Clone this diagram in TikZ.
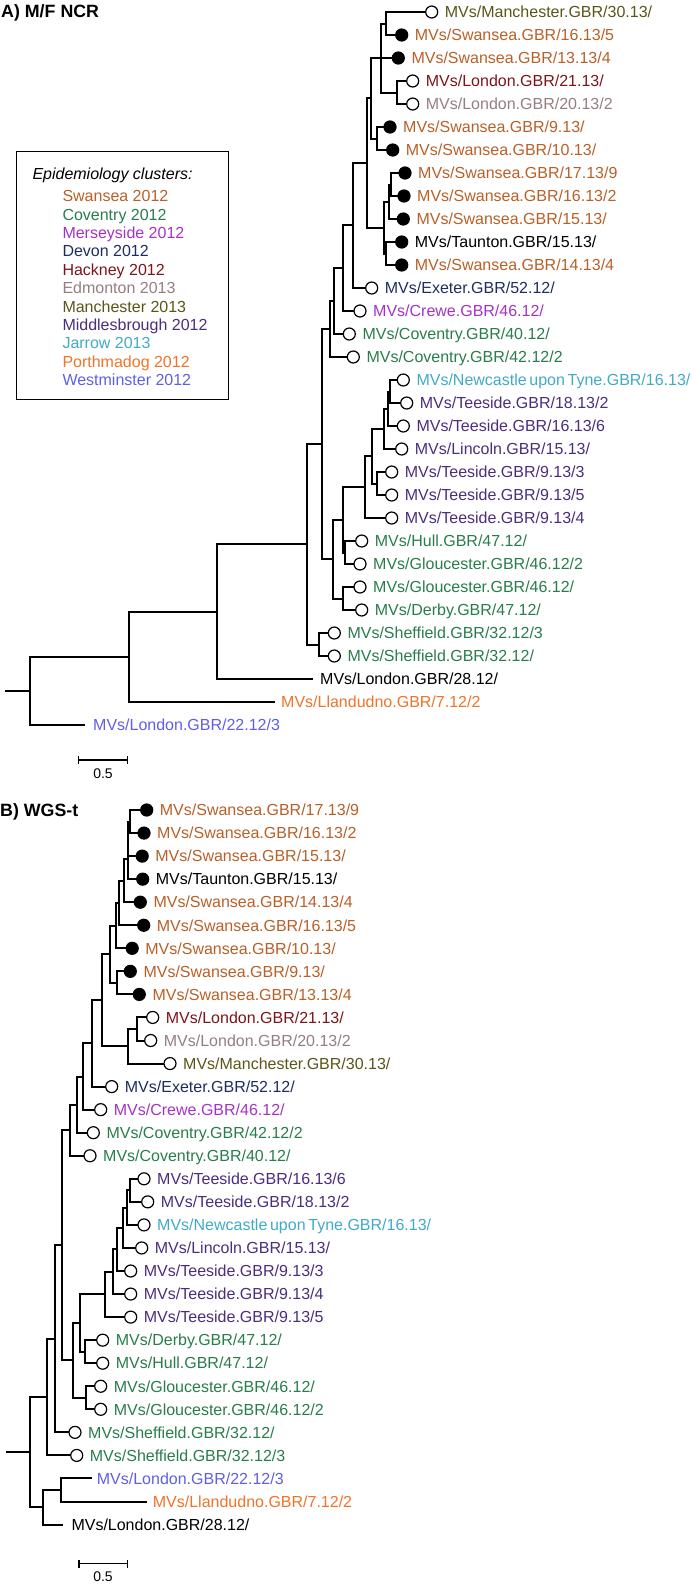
\documentclass[tikz,border=0pt]{standalone}
\usepackage{fontspec}
\setmainfont{Liberation Sans}
\usepackage{tikz}
\usetikzlibrary{arrows.meta,positioning}
\tikzset{>=Stealth}
\usepackage{xcolor}

% cluster colours
\definecolor{cSwa}{RGB}{185,95,40}
\definecolor{cCov}{RGB}{40,125,75}
\definecolor{cMer}{RGB}{165,50,200}
\definecolor{cDev}{RGB}{30,45,95}
\definecolor{cHac}{RGB}{125,20,25}
\definecolor{cEdm}{RGB}{150,125,130}
\definecolor{cMan}{RGB}{90,85,25}
\definecolor{cMid}{RGB}{75,45,125}
\definecolor{cJar}{RGB}{65,170,200}
\definecolor{cPor}{RGB}{240,115,40}
\definecolor{cWes}{RGB}{95,95,230}

\tikzset{
  branch/.style={line width=2pt},
  dot/.style={circle, draw=black, line width=1.2pt, minimum size=12pt, inner sep=0pt, outer sep=0pt},
  lab/.style={anchor=west, inner sep=0pt, text height=11.5pt, text depth=0pt, font=\fontsize{16}{19}\selectfont},
  paneltitle/.style={anchor=west, inner sep=0pt, text height=12.7pt, text depth=0pt, font=\bfseries\fontsize{17.8}{21}\selectfont},
  scalebar/.style={line width=1.4pt, {Bar[width=8pt]}-{Bar[width=8pt]}},
  scalelab/.style={inner sep=0pt, font=\fontsize{14}{16}\selectfont}
}

\begin{document}
\begin{tikzpicture}[x=1pt, y=-1pt]
\useasboundingbox (0,0) rectangle (693,1585);

% ---------------- A) M/F NCR ----------------
\node[paneltitle] (titleA) at (1,11) {A) M/F NCR};

% legend
\node[draw, line width=1.2pt, anchor=north west, inner sep=0pt,
      minimum width=212.5pt, minimum height=248pt] (legend) at (15.5,151) {};
\node[lab, font=\itshape\fontsize{16}{19}\selectfont] (keytitle) at (32.3,174) {Epidemiology clusters:};
\foreach \col/\lbl [count=\k from 0] in {cSwa/Swansea 2012, cCov/Coventry 2012,
    cMer/Merseyside 2012, cDev/Devon 2012, cHac/Hackney 2012, cEdm/Edmonton 2013,
    cMan/Manchester 2013, cMid/Middlesbrough 2012, cJar/Jarrow 2013,
    cPor/Porthmadog 2012, cWes/Westminster 2012}
  \node[lab, text=\col] (key\k) at (62.3,{196+18.4*\k}) {\lbl};

% leaves with dots
\foreach \nm/\y/\x/\fl/\col/\lbl in {
    a0/12/431.7/white/cMan/{MVs/Manchester.GBR/30.13/},
    a1/35/401.7/black/cSwa/{MVs/Swansea.GBR/16.13/5},
    a2/58/398.3/black/cSwa/{MVs/Swansea.GBR/13.13/4},
    a3/81/412.7/white/cHac/{MVs/London.GBR/21.13/},
    a4/104/412.7/white/cEdm/{MVs/London.GBR/20.13/2},
    a5/127/390/black/cSwa/{MVs/Swansea.GBR/9.13/},
    a6/150/392.7/black/cSwa/{MVs/Swansea.GBR/10.13/},
    a7/173/405/black/cSwa/{MVs/Swansea.GBR/17.13/9},
    a8/196/404/black/cSwa/{MVs/Swansea.GBR/16.13/2},
    a9/219/403.3/black/cSwa/{MVs/Swansea.GBR/15.13/},
    a10/242/401.7/black/black/{MVs/Taunton.GBR/15.13/},
    a11/265/401.7/black/cSwa/{MVs/Swansea.GBR/14.13/4},
    a12/288/371.7/white/cDev/{MVs/Exeter.GBR/52.12/},
    a13/311/360/white/cMer/{MVs/Crewe.GBR/46.12/},
    a14/334/349.3/white/cCov/{MVs/Coventry.GBR/40.12/},
    a15/357/353.3/white/cCov/{MVs/Coventry.GBR/42.12/2},
    a16/380/403.3/white/cJar/{MVs/Newcastle\,upon\,Tyne.GBR/16.13/},
    a17/403/406.7/white/cMid/{MVs/Teeside.GBR/18.13/2},
    a18/426/403.3/white/cMid/{MVs/Teeside.GBR/16.13/6},
    a19/449/401.7/white/cMid/{MVs/Lincoln.GBR/15.13/},
    a20/472/391.7/white/cMid/{MVs/Teeside.GBR/9.13/3},
    a21/495/391.7/white/cMid/{MVs/Teeside.GBR/9.13/5},
    a22/518/391.7/white/cMid/{MVs/Teeside.GBR/9.13/4},
    a23/541/361.7/white/cCov/{MVs/Hull.GBR/47.12/},
    a24/564/360/white/cCov/{MVs/Gloucester.GBR/46.12/2},
    a25/587/360/white/cCov/{MVs/Gloucester.GBR/46.12/},
    a26/610/361.7/white/cCov/{MVs/Derby.GBR/47.12/},
    a27/633/334.3/white/cCov/{MVs/Sheffield.GBR/32.12/3},
    a28/656/334.3/white/cCov/{MVs/Sheffield.GBR/32.12/}}{
  \node[dot, fill=\fl] (\nm) at (\x,\y) {};
  \node[lab, text=\col, right=7pt of \nm] (\nm-l) {\lbl};
}
% leaves without dots
\coordinate (a29) at (313,679);
\coordinate (a30) at (275,702);
\coordinate (a31) at (85,725);
\node[lab, right=7pt of a29] (a29-l) {MVs/London.GBR/28.12/};
\node[lab, text=cPor, right=6pt of a30] (a30-l) {MVs/Llandudno.GBR/7.12/2};
\node[lab, text=cWes, right=8pt of a31] (a31-l) {MVs/London.GBR/22.12/3};

% internal nodes
\coordinate (na01) at (386,23.5);
\coordinate (na34) at (396.7,92.5);
\coordinate (na04) at (381,58);
\coordinate (na56) at (377.3,138.5);
\coordinate (naUp) at (371,98.25);
\coordinate (na78) at (390.7,184.5);
\coordinate (na79) at (388.7,201.75);
\coordinate (na1011) at (386,253.5);
\coordinate (naLow) at (384,227.6);
\coordinate (naQ) at (366.7,162.9);
\coordinate (naP1) at (353,225.45);
\coordinate (naP2) at (343.3,268.2);
\coordinate (naP3) at (334,301.1);
\coordinate (naP4) at (330,329.05);
\coordinate (na1617) at (390,391.5);
\coordinate (na1618) at (388.3,408.75);
\coordinate (na1619) at (384,428.9);
\coordinate (na2021) at (376.7,483.5);
\coordinate (na1621) at (371.7,456.2);
\coordinate (naT) at (365,487.1);
\coordinate (naHG) at (345,552.5);
\coordinate (naM) at (342.7,519.8);
\coordinate (naDG) at (343.3,598.5);
\coordinate (naL) at (333.3,559.15);
\coordinate (naNa) at (321.7,444.1);
\coordinate (naSh) at (319,644.5);
\coordinate (na307) at (307,544.3);
\coordinate (na217) at (217,611.65);
\coordinate (na129) at (129,656.8);
\coordinate (naR) at (30,690.9);
\coordinate (naRs) at (5,690.9);

% branches
\draw[branch] (na01) |- (a0.west) (na01) |- (a1.west);
\draw[branch] (na34) |- (a3.west) (na34) |- (a4.west);
\draw[branch] (na04) |- (na01) (na04) |- (a2.west) (na04) |- (na34);
\draw[branch] (na56) |- (a5.west) (na56) |- (a6.west);
\draw[branch] (naUp) |- (na04) (naUp) |- (na56);
\draw[branch] (na78) |- (a7.west) (na78) |- (a8.west);
\draw[branch] (na79) |- (na78) (na79) |- (a9.west);
\draw[branch] (na1011) |- (a10.west) (na1011) |- (a11.west);
\draw[branch] (naLow) |- (na79) (naLow) |- (na1011);
\draw[branch] (naQ) |- (naUp) (naQ) |- (naLow);
\draw[branch] (naP1) |- (naQ) (naP1) |- (a12.west);
\draw[branch] (naP2) |- (naP1) (naP2) |- (a13.west);
\draw[branch] (naP3) |- (naP2) (naP3) |- (a14.west);
\draw[branch] (naP4) |- (naP3) (naP4) |- (a15.west);
\draw[branch] (na1617) |- (a16.west) (na1617) |- (a17.west);
\draw[branch] (na1618) |- (na1617) (na1618) |- (a18.west);
\draw[branch] (na1619) |- (na1618) (na1619) |- (a19.west);
\draw[branch] (na2021) |- (a20.west) (na2021) |- (a21.west);
\draw[branch] (na1621) |- (na1619) (na1621) |- (na2021);
\draw[branch] (naT) |- (na1621) (naT) |- (a22.west);
\draw[branch] (naHG) |- (a23.west) (naHG) |- (a24.west);
\draw[branch] (naM) |- (naT) (naM) |- (naHG);
\draw[branch] (naDG) |- (a25.west) (naDG) |- (a26.west);
\draw[branch] (naL) |- (naM) (naL) |- (naDG);
\draw[branch] (naNa) |- (naP4) (naNa) |- (naL);
\draw[branch] (naSh) |- (a27.west) (naSh) |- (a28.west);
\draw[branch] (na307) |- (naNa) (na307) |- (naSh);
\draw[branch] (na217) |- (na307) (na217) |- (a29);
\draw[branch] (na129) |- (na217) (na129) |- (a30);
\draw[branch] (naR) |- (na129) (naR) |- (a31);
\draw[branch] (naRs) -- (naR);

% scale bar
\coordinate (sa0) at (78,760);
\coordinate (sa1) at (128,760);
\draw[scalebar] (sa0) -- (sa1);
\node[scalelab] (sa-l) at (103,774) {0.5};

% ---------------- B) WGS-t ----------------
\node[paneltitle] (titleB) at (0,810) {B) WGS-t};

\foreach \nm/\y/\x/\fl/\col/\lbl in {
    b0/810/146.7/black/cSwa/{MVs/Swansea.GBR/17.13/9},
    b1/833.05/144/black/cSwa/{MVs/Swansea.GBR/16.13/2},
    b2/856.1/142.2/black/cSwa/{MVs/Swansea.GBR/15.13/},
    b3/879.15/142.7/black/black/{MVs/Taunton.GBR/15.13/},
    b4/902.2/140.3/black/cSwa/{MVs/Swansea.GBR/14.13/4},
    b5/925.25/143.7/black/cSwa/{MVs/Swansea.GBR/16.13/5},
    b6/948.3/132.2/black/cSwa/{MVs/Swansea.GBR/10.13/},
    b7/971.35/130.3/black/cSwa/{MVs/Swansea.GBR/9.13/},
    b8/994.4/139.3/black/cSwa/{MVs/Swansea.GBR/13.13/4},
    b9/1017.45/152.7/white/cHac/{MVs/London.GBR/21.13/},
    b10/1040.5/150.7/white/cEdm/{MVs/London.GBR/20.13/2},
    b11/1063.55/170/white/cMan/{MVs/Manchester.GBR/30.13/},
    b12/1086.6/111.7/white/cDev/{MVs/Exeter.GBR/52.12/},
    b13/1109.65/100.7/white/cMer/{MVs/Crewe.GBR/46.12/},
    b14/1132.7/93.3/white/cCov/{MVs/Coventry.GBR/42.12/2},
    b15/1155.75/90/white/cCov/{MVs/Coventry.GBR/40.12/},
    b16/1178.8/144/white/cMid/{MVs/Teeside.GBR/16.13/6},
    b17/1201.85/147.7/white/cMid/{MVs/Teeside.GBR/18.13/2},
    b18/1224.9/144/white/cJar/{MVs/Newcastle\,upon\,Tyne.GBR/16.13/},
    b19/1247.95/141.7/white/cMid/{MVs/Lincoln.GBR/15.13/},
    b20/1271/130.7/white/cMid/{MVs/Teeside.GBR/9.13/3},
    b21/1294.05/130.7/white/cMid/{MVs/Teeside.GBR/9.13/4},
    b22/1317.1/130.7/white/cMid/{MVs/Teeside.GBR/9.13/5},
    b23/1340.15/102.7/white/cCov/{MVs/Derby.GBR/47.12/},
    b24/1363.2/102.7/white/cCov/{MVs/Hull.GBR/47.12/},
    b25/1386.25/100.7/white/cCov/{MVs/Gloucester.GBR/46.12/},
    b26/1409.3/100.7/white/cCov/{MVs/Gloucester.GBR/46.12/2},
    b27/1432.35/75/white/cCov/{MVs/Sheffield.GBR/32.12/},
    b28/1455.4/76.7/white/cCov/{MVs/Sheffield.GBR/32.12/3}}{
  \node[dot, fill=\fl] (\nm) at (\x,\y) {};
  \node[lab, text=\col, right=7pt of \nm] (\nm-l) {\lbl};
}
\coordinate (b29) at (91.7,1478.45);
\coordinate (b30) at (146.7,1501.5);
\coordinate (b31) at (63.3,1524.55);
\node[lab, text=cWes, right=5pt of b29] (b29-l) {MVs/London.GBR/22.12/3};
\node[lab, text=cPor, right=6pt of b30] (b30-l) {MVs/Llandudno.GBR/7.12/2};
\node[lab, right=8pt of b31] (b31-l) {MVs/London.GBR/28.12/};

% internal nodes
\coordinate (nb01) at (130,821.5);
\coordinate (nb02) at (128.3,838.8);
\coordinate (nb03) at (127.7,859.0);
\coordinate (nb04) at (124,880.6);
\coordinate (nb05) at (119,902.9);
\coordinate (nb06) at (116,925.6);
\coordinate (nb78) at (116.7,982.9);
\coordinate (nbS) at (110,954.25);
\coordinate (nb910) at (136.7,1029.0);
\coordinate (nbLM) at (128.3,1046.3);
\coordinate (nbSLM) at (101.7,1000.3);
\coordinate (nbE) at (91.7,1043.45);
\coordinate (nbC) at (83.3,1076.55);
\coordinate (nbV2) at (76.7,1104.6);
\coordinate (nbV1) at (70,1130.2);
\coordinate (nb1617) at (130,1190.3);
\coordinate (nb1618) at (126.7,1207.6);
\coordinate (nb1619) at (123.3,1227.8);
\coordinate (nb1620) at (116.7,1249.4);
\coordinate (nb1621) at (113.3,1271.7);
\coordinate (nbT) at (105,1294.4);
\coordinate (nbDH) at (85,1351.7);
\coordinate (nbTD) at (80,1323.05);
\coordinate (nbGG) at (86,1397.8);
\coordinate (nbTDG) at (72.7,1360.4);
\coordinate (nbU) at (61.7,1245.3);
\coordinate (nbSh1) at (55,1338.8);
\coordinate (nbSh2) at (46.7,1397.1);
\coordinate (nbLL) at (60.7,1490.0);
\coordinate (nbLo) at (42.7,1507.3);
\coordinate (nbR) at (30,1452.2);
\coordinate (nbRs) at (6,1452.2);

% branches
\draw[branch] (nb01) |- (b0.west) (nb01) |- (b1.west);
\draw[branch] (nb02) |- (nb01) (nb02) |- (b2.west);
\draw[branch] (nb03) |- (nb02) (nb03) |- (b3.west);
\draw[branch] (nb04) |- (nb03) (nb04) |- (b4.west);
\draw[branch] (nb05) |- (nb04) (nb05) |- (b5.west);
\draw[branch] (nb06) |- (nb05) (nb06) |- (b6.west);
\draw[branch] (nb78) |- (b7.west) (nb78) |- (b8.west);
\draw[branch] (nbS) |- (nb06) (nbS) |- (nb78);
\draw[branch] (nb910) |- (b9.west) (nb910) |- (b10.west);
\draw[branch] (nbLM) |- (nb910) (nbLM) |- (b11.west);
\draw[branch] (nbSLM) |- (nbS) (nbSLM) |- (nbLM);
\draw[branch] (nbE) |- (nbSLM) (nbE) |- (b12.west);
\draw[branch] (nbC) |- (nbE) (nbC) |- (b13.west);
\draw[branch] (nbV2) |- (nbC) (nbV2) |- (b14.west);
\draw[branch] (nbV1) |- (nbV2) (nbV1) |- (b15.west);
\draw[branch] (nb1617) |- (b16.west) (nb1617) |- (b17.west);
\draw[branch] (nb1618) |- (nb1617) (nb1618) |- (b18.west);
\draw[branch] (nb1619) |- (nb1618) (nb1619) |- (b19.west);
\draw[branch] (nb1620) |- (nb1619) (nb1620) |- (b20.west);
\draw[branch] (nb1621) |- (nb1620) (nb1621) |- (b21.west);
\draw[branch] (nbT) |- (nb1621) (nbT) |- (b22.west);
\draw[branch] (nbDH) |- (b23.west) (nbDH) |- (b24.west);
\draw[branch] (nbTD) |- (nbT) (nbTD) |- (nbDH);
\draw[branch] (nbGG) |- (b25.west) (nbGG) |- (b26.west);
\draw[branch] (nbTDG) |- (nbTD) (nbTDG) |- (nbGG);
\draw[branch] (nbU) |- (nbV1) (nbU) |- (nbTDG);
\draw[branch] (nbSh1) |- (nbU) (nbSh1) |- (b27.west);
\draw[branch] (nbSh2) |- (nbSh1) (nbSh2) |- (b28.west);
\draw[branch] (nbLL) |- (b29) (nbLL) |- (b30);
\draw[branch] (nbLo) |- (nbLL) (nbLo) |- (b31);
\draw[branch] (nbR) |- (nbSh2) (nbR) |- (nbLo);
\draw[branch] (nbRs) -- (nbR);

% scale bar
\coordinate (sb0) at (78.3,1563.5);
\coordinate (sb1) at (128.3,1563.5);
\draw[scalebar] (sb0) -- (sb1);
\node[scalelab] (sb-l) at (103,1577) {0.5};
\end{tikzpicture}
\end{document}
